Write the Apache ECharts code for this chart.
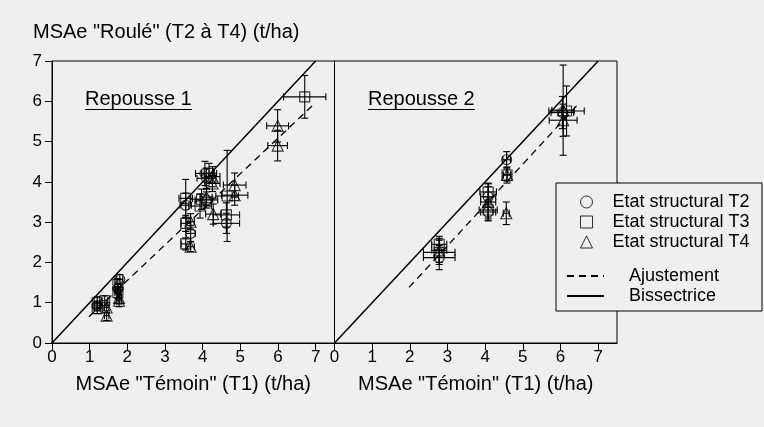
<!DOCTYPE html>
<html>
<head>
<meta charset="utf-8">
<script src="https://cdn.jsdelivr.net/npm/echarts@6/dist/echarts.min.js"></script>
<style>
html,body{margin:0;padding:0;background:#efefef;}
#c{width:764px;height:427px;}
</style>
</head>
<body>
<div id="c"></div>
<script>
// Data: [x, y, xErr, yErr]  (t/ha)
const rep1_T2 = [[1.2,0.92,0.08,0.12],[1.8,1.58,0.08,0.12],[1.75,1.35,0.08,0.12],[3.55,3.42,0.15,0.3],[3.68,2.72,0.12,0.2],[4.06,4.21,0.25,0.3],[4.1,4.09,0.25,0.25],[4.1,3.55,0.3,0.2],[4.63,2.97,0.35,0.25]];
const rep1_T3 = [[1.2,0.85,0.08,0.12],[1.2,1.0,0.08,0.15],[1.4,1.05,0.08,0.12],[1.75,1.45,0.08,0.15],[1.75,1.25,0.08,0.15],[3.55,3.59,0.18,0.47],[3.55,2.97,0.12,0.2],[3.55,2.46,0.12,0.15],[4.17,4.21,0.2,0.25],[3.97,3.57,0.3,0.25],[3.93,3.4,0.3,0.3],[4.65,3.65,0.3,1.13],[4.63,3.18,0.35,0.3],[6.71,6.11,0.56,0.53]];
const rep1_T4 = [[1.45,0.68,0.06,0.12],[1.45,0.88,0.06,0.12],[1.78,1.12,0.06,0.15],[1.78,1.05,0.06,0.15],[3.68,3.01,0.1,0.2],[3.68,2.39,0.1,0.12],[4.26,4.13,0.2,0.25],[4.26,3.96,0.2,0.2],[4.1,3.62,0.15,0.2],[4.28,3.2,0.2,0.25],[4.85,3.92,0.3,0.3],[4.85,3.67,0.35,0.25],[5.99,5.39,0.29,0.4],[5.99,4.9,0.26,0.38]];
const rep2_T2 = [[2.78,2.12,0.42,0.3],[4.08,3.63,0.2,0.25],[4.08,3.25,0.2,0.2],[4.57,4.55,0.1,0.2],[6.05,5.72,0.3,0.4]];
const rep2_T3 = [[2.78,2.45,0.2,0.2],[2.78,2.25,0.42,0.3],[4.08,3.75,0.22,0.2],[4.08,3.3,0.24,0.2],[4.58,4.17,0.1,0.15],[6.16,5.76,0.47,0.62]];
const rep2_T4 = [[2.78,2.3,0.2,0.3],[4.08,3.5,0.2,0.47],[4.58,4.17,0.1,0.2],[4.56,3.22,0.08,0.28],[6.07,5.78,0.3,1.12],[6.07,5.53,0.37,0.4]];
const fit1 = [[0.98,0.65],[6.99,5.96]];
const fit2 = [[1.98,1.38],[6.49,5.95]];
const bisector = [[0,0],[7,7]];
const tickValues = [0,1,2,3,4,5,6,7];
const panelTitles = ['Repousse 1','Repousse 2'];
const seriesNames = ['Etat structural T2','Etat structural T3','Etat structural T4'];
const lineNames = ['Ajustement','Bissectrice'];
const xName = 'MSAe "Témoin" (T1) (t/ha)';
const yName = 'MSAe "Roulé" (T2 à T4) (t/ha)';

const FONT = 'Liberation Sans, Arial, sans-serif';
const chart = echarts.init(document.getElementById('c'));

function errRender(params, api){
  const x=api.value(0), y=api.value(1), ex=api.value(2), ey=api.value(3);
  const l=api.coord([x-ex,y]), r=api.coord([x+ex,y]);
  const t=api.coord([x,y+ey]), b=api.coord([x,y-ey]);
  const h=3.5;
  const st={stroke:'#000',lineWidth:1.1};
  const ln=(x1,y1,x2,y2)=>({type:'line',shape:{x1,y1,x2,y2},style:st});
  return {type:'group',children:[
    ln(l[0],l[1],r[0],r[1]), ln(t[0],t[1],b[0],b[1]),
    ln(l[0],l[1]-h,l[0],l[1]+h), ln(r[0],r[1]-h,r[0],r[1]+h),
    ln(t[0]-h,t[1],t[0]+h,t[1]), ln(b[0]-h,b[1],b[0]+h,b[1])
  ]};
}

const symbols = ['circle','rect','triangle'];
const sizes = [10,10,11];
const panels = [[rep1_T2,rep1_T3,rep1_T4],[rep2_T2,rep2_T3,rep2_T4]];
const series = [];
panels.forEach((p,pi)=>{
  p.forEach((d,si)=>{
    series.push({type:'custom',xAxisIndex:pi,yAxisIndex:pi,data:d,renderItem:errRender,encode:{x:0,y:1},silent:true,z:2});
  });
  p.forEach((d,si)=>{
    series.push({type:'scatter',name:seriesNames[si],xAxisIndex:pi,yAxisIndex:pi,
      data:d.map(v=>[v[0],v[1]]),symbol:symbols[si],symbolSize:sizes[si],
      itemStyle:{color:'rgba(0,0,0,0)',borderColor:'#000',borderWidth:1.1},z:3,silent:true});
  });
  series.push({type:'line',name:lineNames[0],xAxisIndex:pi,yAxisIndex:pi,data:pi===0?fit1:fit2,
    symbol:'none',lineStyle:{color:'#000',width:1.3,type:[7,5]},itemStyle:{color:'#000'},silent:true,z:1});
  series.push({type:'line',name:lineNames[1],xAxisIndex:pi,yAxisIndex:pi,data:bisector,
    symbol:'none',lineStyle:{color:'#000',width:1.5,type:'solid'},itemStyle:{color:'#000'},silent:true,z:1});
});

const gridW = 282.5;
function xAxis(i){
  return {gridIndex:i,type:'value',min:0,max:7.5,interval:1,
    name:xName,nameLocation:'middle',nameGap:31,
    nameTextStyle:{color:'#000',fontSize:20,fontFamily:FONT},
    axisLine:{lineStyle:{color:'#000',width:1}},
    axisTick:{customValues:tickValues,length:7,lineStyle:{color:'#000'}},
    axisLabel:{customValues:tickValues,color:'#000',fontSize:17,fontFamily:FONT,margin:6},
    splitLine:{show:false}};
}
function yAxis(i){
  return {gridIndex:i,type:'value',min:0,max:7,interval:1,
    axisLine:{show:true,lineStyle:{color:'#000',width:1}},
    axisTick:{show:i===0,length:7,lineStyle:{color:'#000'}},
    axisLabel:{show:i===0,color:'#000',fontSize:17,fontFamily:FONT,margin:10},
    splitLine:{show:false}};
}

const graphic = [
  {type:'text',left:33,top:22,style:{text:yName,fill:'#000',font:'20px '+FONT}},
  {type:'text',left:85,top:89,style:{text:panelTitles[0],fill:'#000',font:'20px '+FONT}},
  {type:'line',shape:{x1:85,y1:109.5,x2:192,y2:109.5},style:{stroke:'#000',lineWidth:1}},
  {type:'text',left:368,top:89,style:{text:panelTitles[1],fill:'#000',font:'20px '+FONT}},
  {type:'line',shape:{x1:368,y1:109.5,x2:475,y2:109.5},style:{stroke:'#000',lineWidth:1}},
  {type:'rect',shape:{x:556,y:183,width:206,height:128},style:{fill:'#efefef',stroke:'#000',lineWidth:1},z:5}
];

chart.setOption({
  backgroundColor:'#efefef',
  animation:false,
  textStyle:{fontFamily:FONT},
  grid:[
    {left:52,top:61,width:gridW,height:282,show:true,borderColor:'#000',borderWidth:1,backgroundColor:'transparent'},
    {left:52+gridW,top:61,width:gridW,height:282,show:true,borderColor:'#000',borderWidth:1,backgroundColor:'transparent'}
  ],
  xAxis:[xAxis(0),xAxis(1)],
  yAxis:[yAxis(0),yAxis(1)],
  legend:[
    {data:seriesNames,orient:'vertical',left:580,top:193,padding:0,itemWidth:12,itemHeight:12,itemGap:2,selectedMode:false,z:10,
     itemStyle:{color:'rgba(0,0,0,0)',borderColor:'#000',borderWidth:1},
     textStyle:{color:'#000',fontSize:18,fontFamily:FONT,padding:[0,0,0,15]}},
    {data:lineNames,orient:'vertical',left:566,top:267,padding:0,itemWidth:37,itemHeight:14,itemGap:2,selectedMode:false,z:10,
     itemStyle:{opacity:0,color:'rgba(0,0,0,0)',borderWidth:0},
     textStyle:{color:'#000',fontSize:18,fontFamily:FONT,padding:[0,0,0,20]}}
  ],
  graphic:graphic,
  series:series
});
</script>
</body>
</html>
